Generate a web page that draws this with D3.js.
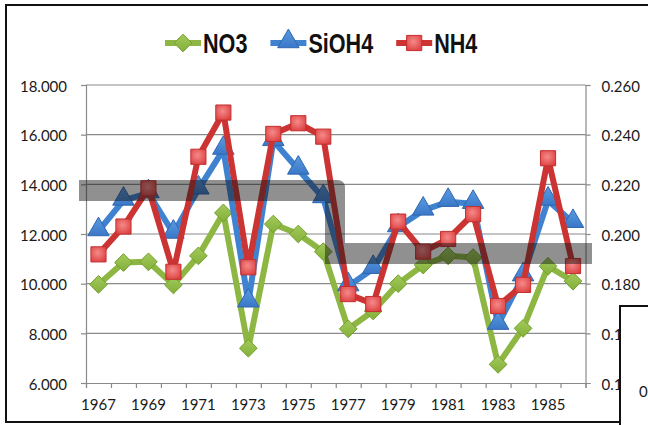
<!DOCTYPE html>
<html>
<head>
<meta charset="utf-8">
<script src="https://cdn.jsdelivr.net/npm/d3@7"></script>
<style>
  html, body { margin: 0; padding: 0; background: #fff; }
  svg { display: block; }
  .tick text, .lbl { font-family: Lato, "Open Sans", sans-serif; font-size: 15px; fill: #1a1a1a; }
</style>
</head>
<body>
<svg id="chart" width="648" height="425"></svg>
<script>
// Years on the category axis
const years = d3.range(1967, 1987);
const yearLabels = [1967, 1969, 1971, 1973, 1975, 1977, 1979, 1981, 1983, 1985];

// Left-axis series
const no3 = [9.97, 10.85, 10.88, 9.95, 11.12, 12.85, 7.4, 12.4, 12.0, 11.29,
             8.18, 8.9, 10.0, 10.75, 11.12, 11.05, 6.75, 8.2, 10.7, 10.1];
const sioh4 = [12.12, 13.35, 13.65, 12.02, 13.8, 15.4, 9.25, 15.75, 14.6, 13.45,
               9.9, 10.6, 12.28, 12.95, 13.3, 13.22, 8.35, 10.3, 13.35, 12.45];
// Right-axis series
const nh4 = [0.1918, 0.2030, 0.2184, 0.1848, 0.2311, 0.2489, 0.1866, 0.2403, 0.2446, 0.2392,
             0.1758, 0.1718, 0.2050, 0.1929, 0.1980, 0.2080, 0.1710, 0.1795, 0.2305, 0.1871];

const leftTicks = [6, 8, 10, 12, 14, 16, 18];
const rightTicks = [0.14, 0.16, 0.18, 0.20, 0.22, 0.24, 0.26];

const svg = d3.select("#chart");
const L = 86, R = 585.5, T = 85, B = 383;
const panelX = 620, panelY = 306;

const x = d3.scaleBand().domain(years).range([L, R]).padding(0);
const yL = d3.scaleLinear().domain([6, 18]).range([B, T]);
const yR = d3.scaleLinear().domain([0.14, 0.26]).range([B, T]);

const defs = svg.append("defs");
const sq = defs.append("radialGradient").attr("id", "sqGrad").attr("cx", "45%").attr("cy", "40%").attr("r", "70%");
sq.append("stop").attr("offset", "0%").attr("stop-color", "#f58a8a");
sq.append("stop").attr("offset", "100%").attr("stop-color", "#dc3c3c");
const dg = defs.append("linearGradient").attr("id", "dmGrad").attr("x1", 0).attr("y1", 0).attr("x2", 0).attr("y2", 1);
dg.append("stop").attr("offset", "0%").attr("stop-color", "#a2c95a");
dg.append("stop").attr("offset", "100%").attr("stop-color", "#84b03a");
const tg = defs.append("linearGradient").attr("id", "trGrad").attr("x1", 0).attr("y1", 0).attr("x2", 0).attr("y2", 1);
tg.append("stop").attr("offset", "0%").attr("stop-color", "#5a9ae0");
tg.append("stop").attr("offset", "100%").attr("stop-color", "#3a78c8");
// Right-axis labels are hidden where the neighbouring panel sits
defs.append("clipPath").attr("id", "rClip").append("path")
  .attr("d", `M0,0H648V${panelY}H${panelX - 1}V425H0Z`);

// Outer frame
svg.append("rect").attr("x", 6).attr("y", 5).attr("width", 720).attr("height", 417)
  .attr("fill", "#fff").attr("stroke", "#111").attr("stroke-width", 2);

// Gridlines
svg.append("g").selectAll("line").data(leftTicks.slice(1)).join("line")
  .attr("x1", L).attr("x2", R).attr("y1", d => yL(d)).attr("y2", d => yL(d))
  .attr("stroke", "#8a8a8a").attr("stroke-width", 1.2);

// Left axis
const gL = svg.append("g").attr("transform", `translate(${L},0)`)
  .call(d3.axisLeft(yL).tickValues(leftTicks).tickFormat(d3.format(".3f")).tickSize(5).tickPadding(14));
// Right axis
const gR = svg.append("g").attr("clip-path", "url(#rClip)").append("g").attr("transform", `translate(${R},0)`)
  .call(d3.axisRight(yR).tickValues(rightTicks).tickFormat(d3.format(".3f")).tickSize(5).tickPadding(11));
// Bottom axis: ticks between categories, labels on odd years
const xEdge = d3.scaleLinear().domain([0, years.length]).range([L, R]);
const gB = svg.append("g").attr("transform", `translate(0,${B})`)
  .call(d3.axisBottom(xEdge).tickValues(d3.range(0, years.length + 1)).tickFormat("").tickSize(5));
gB.selectAll(".tick text").remove();
svg.append("g").selectAll("text").data(yearLabels).join("text")
  .attr("class", "lbl")
  .attr("x", d => x(d) + x.bandwidth() / 2).attr("y", 410)
  .attr("text-anchor", "middle").text(d => d);

[gL, gR, gB].forEach(g => {
  g.selectAll(".domain").attr("stroke", "#8a8a8a").attr("stroke-width", 1.2);
  g.selectAll(".tick line").attr("stroke", "#8a8a8a").attr("stroke-width", 1.2);
});
gL.selectAll(".tick text").attr("dy", "0.4em");
gR.selectAll(".tick text").attr("dy", "0.4em");

const cx = d => x(d) + x.bandwidth() / 2;

const diamond = d3.symbol().type(d3.symbolDiamond2).size(200);
const triangle = d3.symbol().type(d3.symbolTriangle).size(200);
const square = d3.symbol().type(d3.symbolSquare).size(230);

const series = [
  { name: "NO3", vals: no3, y: yL, line: "#8db642", sym: diamond, fill: "url(#dmGrad)", edge: "#73a02e", dy: 0 },
  { name: "SiOH4", vals: sioh4, y: yL, line: "#3f83d0", sym: triangle, fill: "url(#trGrad)", edge: "#2f67b0", dy: 1.5 },
  { name: "NH4", vals: nh4, y: yR, line: "#cc3333", sym: square, fill: "url(#sqGrad)", edge: "#c43030", dy: 0 }
];

series.forEach(s => {
  const pts = years.map((yr, i) => [cx(yr), s.y(s.vals[i])]);
  svg.append("path").attr("d", d3.line()(pts))
    .attr("fill", "none").attr("stroke", s.line).attr("stroke-width", 6)
    .attr("stroke-linejoin", "round");
  svg.append("g").selectAll("path").data(pts).join("path")
    .attr("d", s.sym)
    .attr("transform", p => `translate(${p[0]},${p[1] - s.dy})`)
    .attr("fill", s.fill).attr("stroke", s.edge).attr("stroke-width", 1);
});

// Highlight bands over the plot
const band = d3.path();
band.moveTo(79, 180);
band.lineTo(337, 180);
band.quadraticCurveTo(345, 180, 345, 188);
band.lineTo(345, 243);
band.lineTo(592, 243);
band.lineTo(592, 264);
band.lineTo(325, 264);
band.lineTo(325, 201);
band.lineTo(79, 201);
band.closePath();
svg.append("path").attr("d", band.toString()).attr("fill", "rgba(20,20,20,0.47)");

// Legend (condensed bold labels)
const lg = svg.append("g");
let lx = 165;
series.forEach(s => {
  lg.append("line").attr("x1", lx).attr("x2", lx + 36).attr("y1", 43).attr("y2", 43)
    .attr("stroke", s.line).attr("stroke-width", 6);
  lg.append("path").attr("d", s.sym).attr("transform", `translate(${lx + 18},${43 - s.dy})`)
    .attr("fill", s.fill).attr("stroke", s.edge).attr("stroke-width", 1);
  const t = lg.append("text")
    .attr("transform", `translate(${lx + 38},53) scale(0.8,1)`)
    .attr("font-family", "'Liberation Sans', Arial, sans-serif")
    .attr("font-weight", "bold").attr("font-size", 27).attr("fill", "#111").text(s.name);
  lx += 38 + t.node().getComputedTextLength() * 0.8 + 23;
});

// Neighbouring panel at the lower right
svg.append("rect").attr("x", panelX).attr("y", panelY).attr("width", 60).attr("height", 140)
  .attr("fill", "#fff").attr("stroke", "#111").attr("stroke-width", 2);
svg.append("text").attr("class", "lbl").attr("x", 639).attr("y", 397).text("0");
</script>
</body>
</html>
